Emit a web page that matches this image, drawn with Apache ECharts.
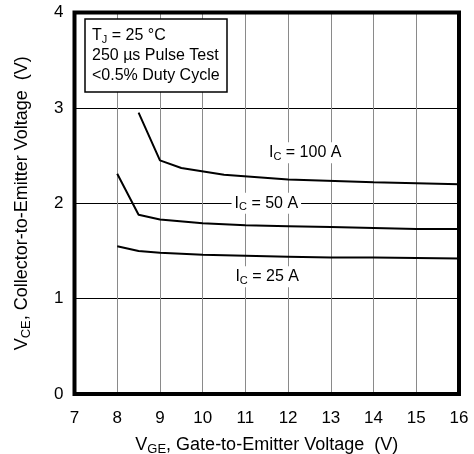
<!DOCTYPE html>
<html>
<head>
<meta charset="utf-8">
<script src="https://cdn.jsdelivr.net/npm/echarts@6/dist/echarts.min.js"></script>
<style>html,body{margin:0;padding:0;background:#fff;}#c{width:474px;height:454px;}</style>
</head>
<body>
<div id="c"></div>
<script>
const vge100 = [8.5, 9.0, 9.5, 10.5, 12.0, 14.0, 16.0];
const vce100 = [2.95, 2.45, 2.37, 2.30, 2.25, 2.22, 2.20];
const vge50 = [8.0, 8.5, 9.0, 10.0, 11.0, 12.0, 13.0, 14.0, 15.0, 16.0];
const vce50 = [2.31, 1.88, 1.83, 1.79, 1.77, 1.76, 1.75, 1.74, 1.73, 1.73];
const vge25 = [8.0, 8.5, 9.0, 10.0, 11.0, 12.0, 13.0, 14.0, 16.0];
const vce25 = [1.55, 1.50, 1.48, 1.46, 1.45, 1.44, 1.43, 1.43, 1.42];
const xTicks = [7, 8, 9, 10, 11, 12, 13, 14, 15, 16];
const yTicks = [0, 1, 2, 3, 4];
const labels = [
  {name: '100 A', x: 12.4, y: 2.53},
  {name: '50 A', x: 11.49, y: 2.0},
  {name: '25 A', x: 11.51, y: 1.23}
];

const FONT = 'Liberation Sans';
const richBase = {
  n: {fontSize: 16, fontFamily: FONT, color: '#000'},
  s: {fontSize: 11, fontFamily: FONT, color: '#000', padding: [8, 0, 0, 0]}
};
const zip = (a, b) => a.map((v, i) => [v, b[i]]);

function mkSeries(xs, ys, lab) {
  return {
    type: 'line', data: zip(xs, ys), symbol: 'none', smooth: false,
    lineStyle: {color: '#000', width: 2}, silent: true, z: 3,
    markPoint: {
      symbol: 'rect', symbolSize: 0,
      data: [{coord: [lab.x, lab.y]}],
      label: {
        show: true, position: 'inside',
        formatter: '{n|I}{s|C}{n| = ' + lab.name + '}',
        backgroundColor: '#fff', padding: [1, 3],
        rich: richBase
      }
    }
  };
}

const chart = echarts.init(document.getElementById('c'));
chart.setOption({
  animation: false,
  backgroundColor: '#fff',
  title: {
    text: '{n|T}{s|J}{n| = 25 °C}\n{n|250 µs Pulse Test}\n{n|<0.5% Duty Cycle}',
    left: 85, top: 19,
    borderColor: '#000', borderWidth: 1.5,
    padding: [7, 8, 6, 7],
    backgroundColor: '#fff',
    textStyle: {lineHeight: 20, fontSize: 16, fontFamily: FONT, fontWeight: 'normal', rich: {
      n: {fontSize: 16, fontFamily: FONT, color: '#000', lineHeight: 20},
      s: {fontSize: 11, fontFamily: FONT, color: '#000', padding: [8, 0, 0, 0], lineHeight: 20}
    }}
  },
  grid: {left: 74.5, right: 15, top: 12.5, bottom: 60, show: true, borderColor: '#000', borderWidth: 4, backgroundColor: 'transparent', z: 5, containLabel: false, outerBoundsMode: 'none'},
  xAxis: {
    type: 'value', min: xTicks[0], max: xTicks[xTicks.length - 1], interval: 1,
    axisLine: {show: false}, axisTick: {show: false},
    axisLabel: {fontSize: 17, fontFamily: FONT, color: '#000', margin: 16},
    splitLine: {show: true, lineStyle: {color: '#8a8a8a', width: 1}},
    name: '{n|V}{s|GE}{n|, Gate-to-Emitter Voltage  (V)}',
    nameLocation: 'middle', nameGap: 41,
    nameTextStyle: {rich: {
      n: {fontSize: 18, fontFamily: FONT, color: '#000'},
      s: {fontSize: 13, fontFamily: FONT, color: '#000', padding: [8, 0, 0, 0]}
    }}
  },
  yAxis: {
    type: 'value', min: yTicks[0], max: yTicks[yTicks.length - 1], interval: 1,
    axisLine: {show: false}, axisTick: {show: false},
    axisLabel: {fontSize: 17, fontFamily: FONT, color: '#000', margin: 11},
    splitLine: {show: true, lineStyle: {color: '#000', width: 1}},
    name: '{n|V}{s|CE}{n|, Collector-to-Emitter Voltage  (V)}',
    nameLocation: 'middle', nameGap: 42,
    nameTextStyle: {rich: {
      n: {fontSize: 18, fontFamily: FONT, color: '#000'},
      s: {fontSize: 13, fontFamily: FONT, color: '#000', padding: [8, 0, 0, 0]}
    }}
  },
  series: [
    mkSeries(vge100, vce100, labels[0]),
    mkSeries(vge50, vce50, labels[1]),
    mkSeries(vge25, vce25, labels[2])
  ]
});
</script>
</body>
</html>
